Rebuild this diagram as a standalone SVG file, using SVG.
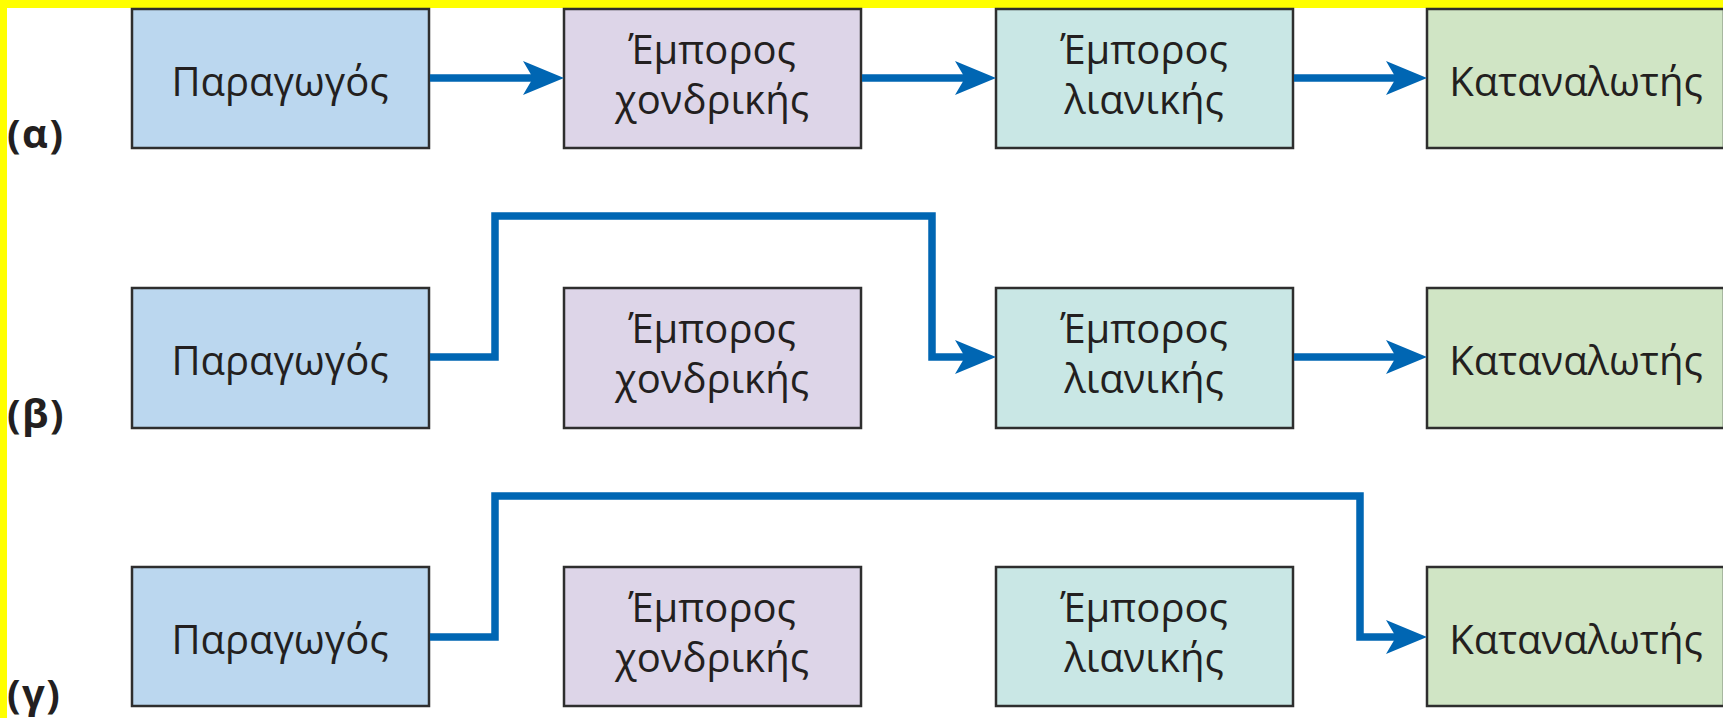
<svg xmlns="http://www.w3.org/2000/svg" width="1723" height="718" viewBox="0 0 1723 718">
<style>
.box{stroke:#2e2e2e;stroke-width:2.5}
.c1{fill:#bbd7ef}.c2{fill:#ddd5e8}.c3{fill:#c9e7e5}.c4{fill:#d0e5c5}
.t{font-family:"Open Sans","Noto Sans",sans-serif;font-size:40px;fill:#231f20;text-anchor:middle}
.lab{font-family:"Open Sans","Noto Sans",sans-serif;font-size:40px;font-weight:bold;letter-spacing:1.5px;fill:#231f20}
.con{fill:none;stroke:#0066b3;stroke-width:7.5;stroke-linejoin:miter;stroke-linecap:butt}
</style>
<defs>
<marker id="ah" markerUnits="userSpaceOnUse" markerWidth="50" markerHeight="40" refX="0" refY="0" orient="auto" overflow="visible">
<path d="M31,0 L-10,-17 L0,0 L-10,17 Z" fill="#0066b3"/>
</marker>
</defs>
<rect width="1723" height="718" fill="#ffffff"/>
<rect x="0" y="0" width="1723" height="8" fill="#ffff00"/>
<rect x="0" y="0" width="7" height="718" fill="#ffff00"/>

<g id="labels">
<text class="lab" x="7" y="148">(α)</text>
<text class="lab" x="7" y="428">(β)</text>
<text class="lab" x="7" y="708">(γ)</text>
</g>

<g id="a-producer"><rect class="box c1" x="132" y="9" width="297" height="139"/><text class="t" x="280" y="96">Παραγωγός</text></g>
<g id="a-wholesaler"><rect class="box c2" x="564" y="9" width="297" height="139"/><text class="t" x="712" y="64">Έμπορος</text><text class="t" x="712" y="114">χονδρικής</text></g>
<g id="a-retailer"><rect class="box c3" x="996" y="9" width="297" height="139"/><text class="t" x="1144" y="64">Έμπορος</text><text class="t" x="1144" y="114">λιανικής</text></g>
<g id="a-consumer"><rect class="box c4" x="1427" y="9" width="297" height="139"/><text class="t" x="1576" y="96">Καταναλωτής</text></g>

<g id="b-producer"><rect class="box c1" x="132" y="288" width="297" height="140"/><text class="t" x="280" y="375">Παραγωγός</text></g>
<g id="b-wholesaler"><rect class="box c2" x="564" y="288" width="297" height="140"/><text class="t" x="712" y="343">Έμπορος</text><text class="t" x="712" y="393">χονδρικής</text></g>
<g id="b-retailer"><rect class="box c3" x="996" y="288" width="297" height="140"/><text class="t" x="1144" y="343">Έμπορος</text><text class="t" x="1144" y="393">λιανικής</text></g>
<g id="b-consumer"><rect class="box c4" x="1427" y="288" width="297" height="140"/><text class="t" x="1576" y="375">Καταναλωτής</text></g>

<g id="g-producer"><rect class="box c1" x="132" y="567" width="297" height="139"/><text class="t" x="280" y="654">Παραγωγός</text></g>
<g id="g-wholesaler"><rect class="box c2" x="564" y="567" width="297" height="139"/><text class="t" x="712" y="622">Έμπορος</text><text class="t" x="712" y="672">χονδρικής</text></g>
<g id="g-retailer"><rect class="box c3" x="996" y="567" width="297" height="139"/><text class="t" x="1144" y="622">Έμπορος</text><text class="t" x="1144" y="672">λιανικής</text></g>
<g id="g-consumer"><rect class="box c4" x="1427" y="567" width="297" height="139"/><text class="t" x="1576" y="654">Καταναλωτής</text></g>

<g id="connectors">
<path class="con" d="M430,78 H533" marker-end="url(#ah)"/>
<path class="con" d="M862,78 H965" marker-end="url(#ah)"/>
<path class="con" d="M1294,78 H1396" marker-end="url(#ah)"/>
<path class="con" d="M430,357 H495 V216 H932 V357 H965" marker-end="url(#ah)"/>
<path class="con" d="M1294,357 H1396" marker-end="url(#ah)"/>
<path class="con" d="M430,637 H495 V496 H1360 V637 H1396" marker-end="url(#ah)"/>
</g>
</svg>
